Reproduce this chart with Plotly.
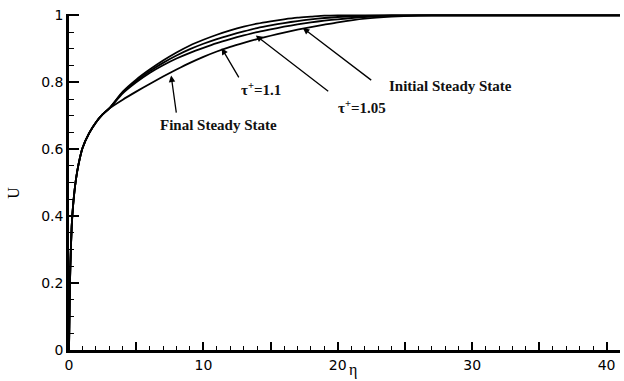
import plotly.graph_objects as go

# Shared near-wall part (eta, U)
eta_wall = [0, 0.05, 0.1, 0.2, 0.3, 0.5, 0.7, 1.0, 1.5, 2.0, 2.5, 3.0]
u_wall = [0, 0.15, 0.25, 0.37, 0.43, 0.505, 0.553, 0.603, 0.648, 0.68, 0.704, 0.722]

eta_outer = [4, 5, 6, 7, 8, 9, 10, 11, 12, 13, 14, 15, 16, 17, 18, 19, 20, 22, 24, 26, 28, 30, 41]

u_initial = [0.772, 0.808, 0.838, 0.865, 0.889, 0.91, 0.927, 0.942, 0.955, 0.966, 0.975, 0.982, 0.988, 0.993, 0.996, 0.999, 1.0, 1.0, 1.0, 1.0, 1.0, 1.0, 1.0]
u_tau105 = [0.77, 0.804, 0.833, 0.858, 0.88, 0.899, 0.915, 0.929, 0.941, 0.952, 0.962, 0.97, 0.977, 0.983, 0.988, 0.992, 0.995, 0.998, 1.0, 1.0, 1.0, 1.0, 1.0]
u_tau11 = [0.767, 0.8, 0.828, 0.851, 0.871, 0.888, 0.903, 0.917, 0.929, 0.94, 0.95, 0.958, 0.966, 0.973, 0.979, 0.984, 0.988, 0.995, 0.999, 1.0, 1.0, 1.0, 1.0]
u_final = [0.748, 0.772, 0.795, 0.817, 0.838, 0.858, 0.876, 0.892, 0.906, 0.918, 0.929, 0.939, 0.948, 0.957, 0.965, 0.972, 0.979, 0.99, 0.996, 0.999, 1.0, 1.0, 1.0]

curves = [u_initial, u_tau105, u_tau11, u_final]

x_major = [0, 5, 10, 15, 20, 25, 30, 35, 40]
x_labels = ["0", "", "10", "", "20", "", "30", "", "40"]
y_major = [0, 0.2, 0.4, 0.6, 0.8, 1.0]
y_labels = ["0", "0.2", "0.4", "0.6", "0.8", "1"]

# label text, text position (eta, U), arrow tail (eta, U), arrow tip (eta, U)
labels = [
    ("Final Steady State", 11.1, 0.673, 8.0, 0.705, 7.6, 0.82),
    ("τ<sup>+</sup>=1.1", 14.3, 0.78, 12.7, 0.81, 11.36, 0.902),
    ("τ<sup>+</sup>=1.05", 21.8, 0.727, 19.4, 0.77, 13.9, 0.94),
    ("Initial Steady State", 28.4, 0.79, 22.6, 0.803, 17.4, 0.962),
]

fig = go.Figure()
for u in curves:
    fig.add_trace(go.Scatter(
        x=eta_wall + eta_outer, y=u_wall + u,
        mode="lines", line=dict(color="black", width=1.8, shape="spline", smoothing=0.6),
        showlegend=False, hoverinfo="skip"))

serif = "Liberation Serif"
for text, tx, ty, ax, ay, hx, hy in labels:
    fig.add_annotation(x=tx, y=ty, xref="x", yref="y", text="<b>" + text + "</b>", showarrow=False,
                       xanchor="center", yanchor="middle",
                       font=dict(family=serif, size=15, color="#111"))
    fig.add_annotation(x=hx, y=hy, ax=ax, ay=ay, xref="x", yref="y", axref="x", ayref="y",
                       text="", showarrow=True, arrowhead=2, arrowsize=1, arrowwidth=1.3,
                       arrowcolor="black", standoff=0)

fig.add_annotation(x=-0.1, y=0.468, xref="paper", yref="paper", text="U", showarrow=False,
                   xanchor="center", yanchor="middle",
                   textangle=-90, font=dict(family=serif, size=16, color="black"))
fig.add_annotation(x=0.515, y=-0.092, xref="paper", yref="paper", text="η", showarrow=False,
                   xanchor="center", yanchor="bottom",
                   font=dict(family=serif, size=16, color="black"))

tickfont = dict(family="DejaVu Sans", size=14, color="black")
fig.update_xaxes(range=[0, 41], tickvals=x_major, ticktext=x_labels,
                 ticks="inside", ticklen=8, tickwidth=2, tickcolor="black",
                 showline=True, linecolor="black", linewidth=2.5, showgrid=False, zeroline=False,
                 tickfont=tickfont,
                 minor=dict(ticks="inside", dtick=1, tick0=0, ticklen=4, tickwidth=1, tickcolor="black"))
fig.update_yaxes(range=[0, 1.004], tickvals=y_major, ticktext=y_labels,
                 ticks="inside", ticklen=10, tickwidth=2, tickcolor="black",
                 showline=True, linecolor="black", linewidth=2.5, showgrid=False, zeroline=False,
                 tickfont=tickfont,
                 minor=dict(ticks="inside", dtick=0.05, tick0=0, ticklen=5, tickwidth=1, tickcolor="black"))

fig.update_layout(width=624, height=381, margin=dict(l=69, r=4, t=14, b=31),
                  plot_bgcolor="white", paper_bgcolor="white")
fig.write_html("out.html")
